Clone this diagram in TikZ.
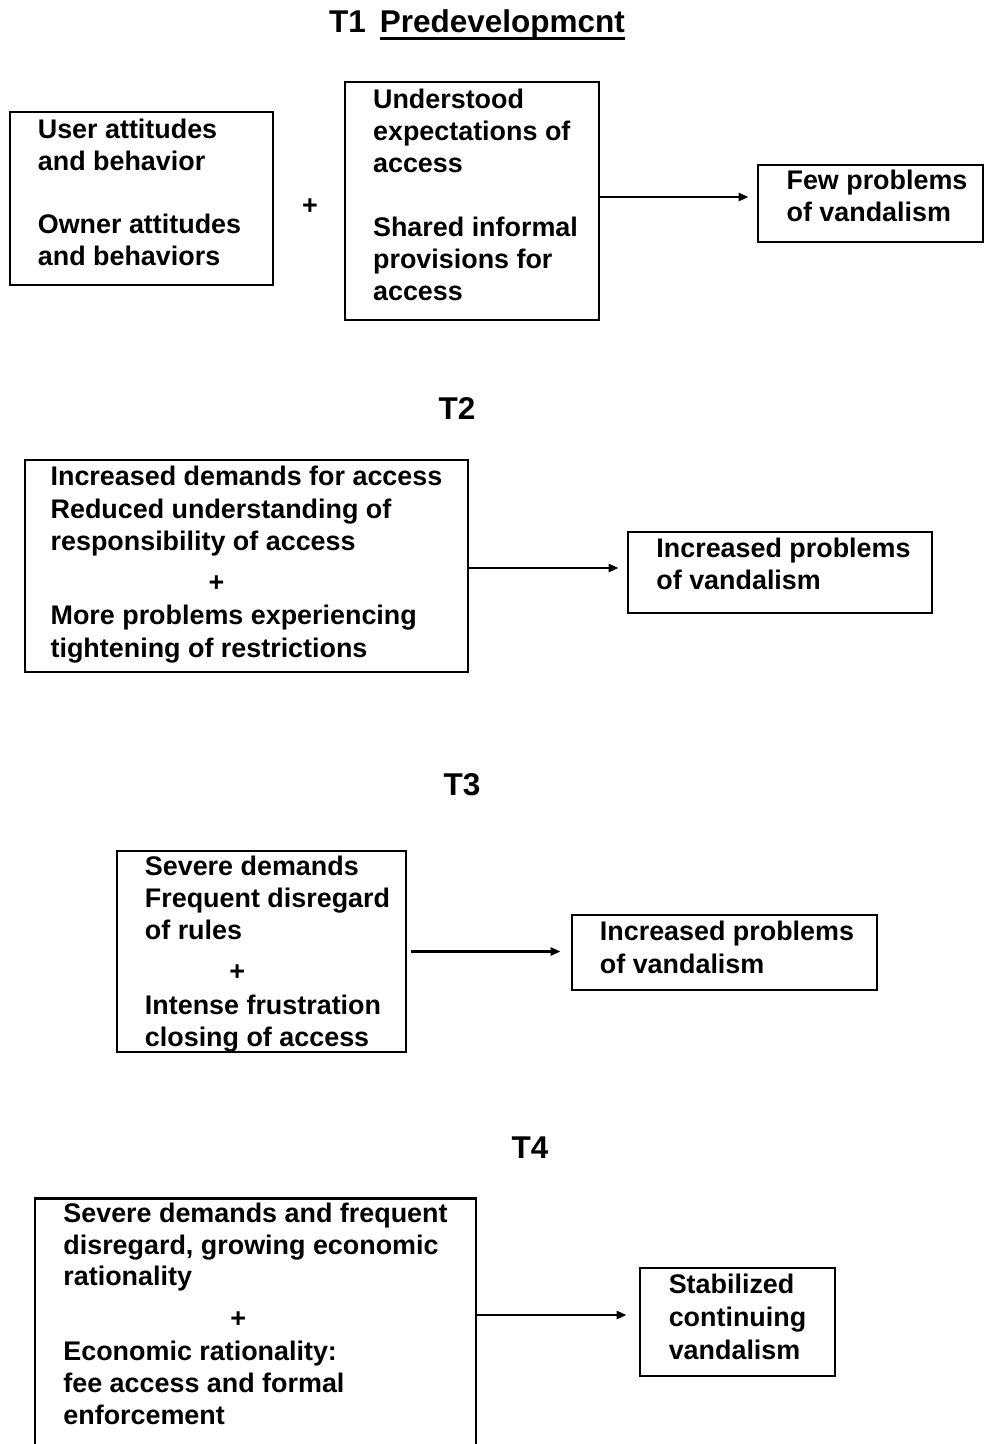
\documentclass[tikz,border=0pt]{standalone}
\usepackage{fontspec}
\setmainfont{Liberation Sans}
\usetikzlibrary{arrows.meta}
\newcommand\myul[1]{\setbox0=\hbox{#1}\rlap{\rule[-7pt]{\wd0}{2.5pt}}\box0}
\newcommand\padend[1]{\\[#1]\mbox{}}
\newcommand\trimw[2]{\setbox0=\hbox{#2}\hbox to \dimexpr\wd0-#1\relax{\box0\hss}}
\begin{document}
\begin{tikzpicture}[x=1pt,y=-1pt,
  box/.style={draw, line width=2.8pt, align=left, inner xsep=0pt, inner ysep=2pt,
    font=\bfseries\fontsize{26.9}{32.3}\selectfont},
  plus/.style={font=\bfseries\fontsize{26.9}{32.3}\selectfont, inner sep=0pt},
  ttl/.style={font=\bfseries\fontsize{31.5}{36}\selectfont, inner sep=0pt},
  arr/.style={line width=2.6pt, -{Triangle[length=10pt,width=8pt]}}]
\useasboundingbox (0,0) rectangle (988,1444);
\clip (0,0) rectangle (988,1444);

% T1
\node[ttl] (t1) at (477,25) {T1\hspace{14pt}\myul{Predevelopmcnt}};
\node[box, minimum width=263pt, minimum height=173pt] (b1) at (141.5,198.5)
  {User attitudes\\and behavior\\[30pt]\trimw{-4pt}{Owner attitudes}\\and behaviors\padend{-19.8pt}};
\node[plus] (p1) at (310,207) {+};
\node[box, minimum width=254pt, minimum height=238pt] (b2) at (472,201)
  {Understood\\\trimw{7pt}{expectations of}\\access\\[31pt]\trimw{7pt}{Shared informal}\\provisions for\\access\padend{-19.8pt}};
\node[box, minimum width=225pt, minimum height=77pt] (b3) at (870.5,203.5)
  {\trimw{13pt}{Few problems}\\of vandalism\padend{-16.8pt}};
\draw[arr, shorten >=8pt] ([yshift=4pt]b2.east) -- ([yshift=4pt]b2.east -| b3.west);

% T2
\node[ttl] (t2) at (457,408) {T2};
\node[box, minimum width=443pt, minimum height=212pt] (b4) at (246.5,566)
  {Increased demands for access\\Reduced understanding of\\responsibility of access\\[9pt]\hspace*{158pt}+\\[1pt]More problems experiencing\\tightening of restrictions\padend{-23.8pt}};
\node[box, minimum width=304pt, minimum height=81pt] (b5) at (780,572.5)
  {\trimw{7pt}{Increased problems}\\of vandalism\padend{-14.8pt}};
\draw[arr, shorten >=8pt] ([yshift=-2pt]b4.east) -- ([yshift=-2pt]b4.east -| b5.west);

% T3
\node[ttl] (t3) at (462,785) {T3};
\node[box, minimum width=289pt, minimum height=201pt] (b6) at (261.5,951.5)
  {Severe demands\\\trimw{12pt}{Frequent disregard}\\of rules\\[8pt]\hspace*{84.5pt}+\\[2pt]\trimw{12pt}{Intense frustration}\\closing of access\padend{-31.8pt}};
\node[box, minimum width=305pt, minimum height=75pt] (b7) at (724.5,952.5)
  {\trimw{5pt}{Increased problems}\\of vandalism\padend{-21.8pt}};
\draw[arr, shorten <=4pt, shorten >=10pt] (b6.east) -- (b6.east -| b7.west);

% T4
\node[ttl] (t4) at (530,1148) {T4};
\node[box, anchor=north, minimum width=441pt, inner ysep=4.5pt,
      font=\bfseries\fontsize{26.9}{31.6}\selectfont] (b8) at (255.5,1197)
  {Severe demands and frequent\\disregard, growing economic\\rationality\\[10pt]\hspace*{167pt}+\\[2pt]Economic rationality:\\fee access and formal\\enforcement\\[60pt]\mbox{}};
\node[box, minimum width=195pt, minimum height=108pt] (b9) at (737.5,1322)
  {Stabilized\\[1pt]continuing\\[1pt]vandalism\padend{-21.8pt}};
\draw[arr, shorten >=12pt] ([yshift=7pt]b9.west -| b8.east) -- ([yshift=7pt]b9.west);
\end{tikzpicture}
\end{document}
